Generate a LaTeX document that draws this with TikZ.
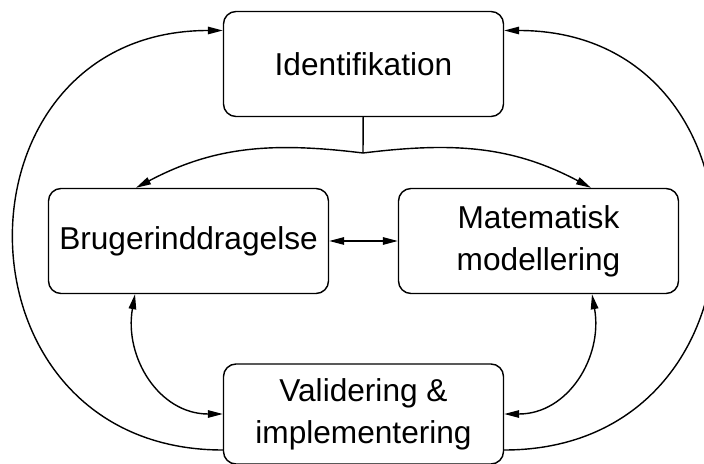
\documentclass[tikz,border=0pt]{standalone}
\usepackage{fontspec}
\setmainfont{Liberation Sans}
\usetikzlibrary{arrows.meta,calc}

\begin{document}
\begin{tikzpicture}[
  box/.style={draw,line width=0.8pt,rounded corners=0.25cm,minimum width=5.6cm,minimum height=2.1cm,align=center,font=\fontsize{18}{24}\selectfont},
  link/.style={line width=0.8pt,-{Triangle[length=3mm,width=1.5mm]}},
  twoway/.style={line width=0.8pt,{Triangle[length=3mm,width=1.5mm]}-{Triangle[length=3mm,width=1.5mm]}}
]
  \useasboundingbox (0,0) rectangle (14.08,9.26);
  \node[box] (ident) at (7.27,7.98) {Identifikation};
  \node[box] (bruger) at (3.77,4.44) {Brugerinddragelse};
  \node[box] (mat) at (10.77,4.44) {Matematisk\\modellering};
  \node[box,minimum height=2.0cm] (valid) at (7.27,0.98) {Validering \&\\implementering};
  \coordinate (split) at (7.26,6.2);
  %top split
  \draw[line width=0.8pt] (ident) -- (split);
  \draw[link] (split) to[out=173,in=28] ($(bruger.north)+(-1.05,0)$);
  \draw[link] (split) to[out=7,in=152] ($(mat.north)+(1.05,0)$);
  \draw[twoway] (bruger.east) -- (mat.west);
  %lower loops
  \draw[twoway] ($(bruger.south)+(-1.07,0)$) to[out=-100,in=180,looseness=1.1] (valid.west);
  \draw[twoway] ($(mat.south)+(1.07,0)$) to[out=-80,in=0,looseness=1.1] (valid.east);
  %big arcs
  \draw[link] ($(valid.west)+(0,-0.72)$) to[out=180,in=180,looseness=1.7] ($(ident.west)+(0,0.67)$);
  \draw[link] ($(valid.east)+(0,-0.72)$) to[out=0,in=0,looseness=1.7] ($(ident.east)+(0,0.67)$);
\end{tikzpicture}
\end{document}
